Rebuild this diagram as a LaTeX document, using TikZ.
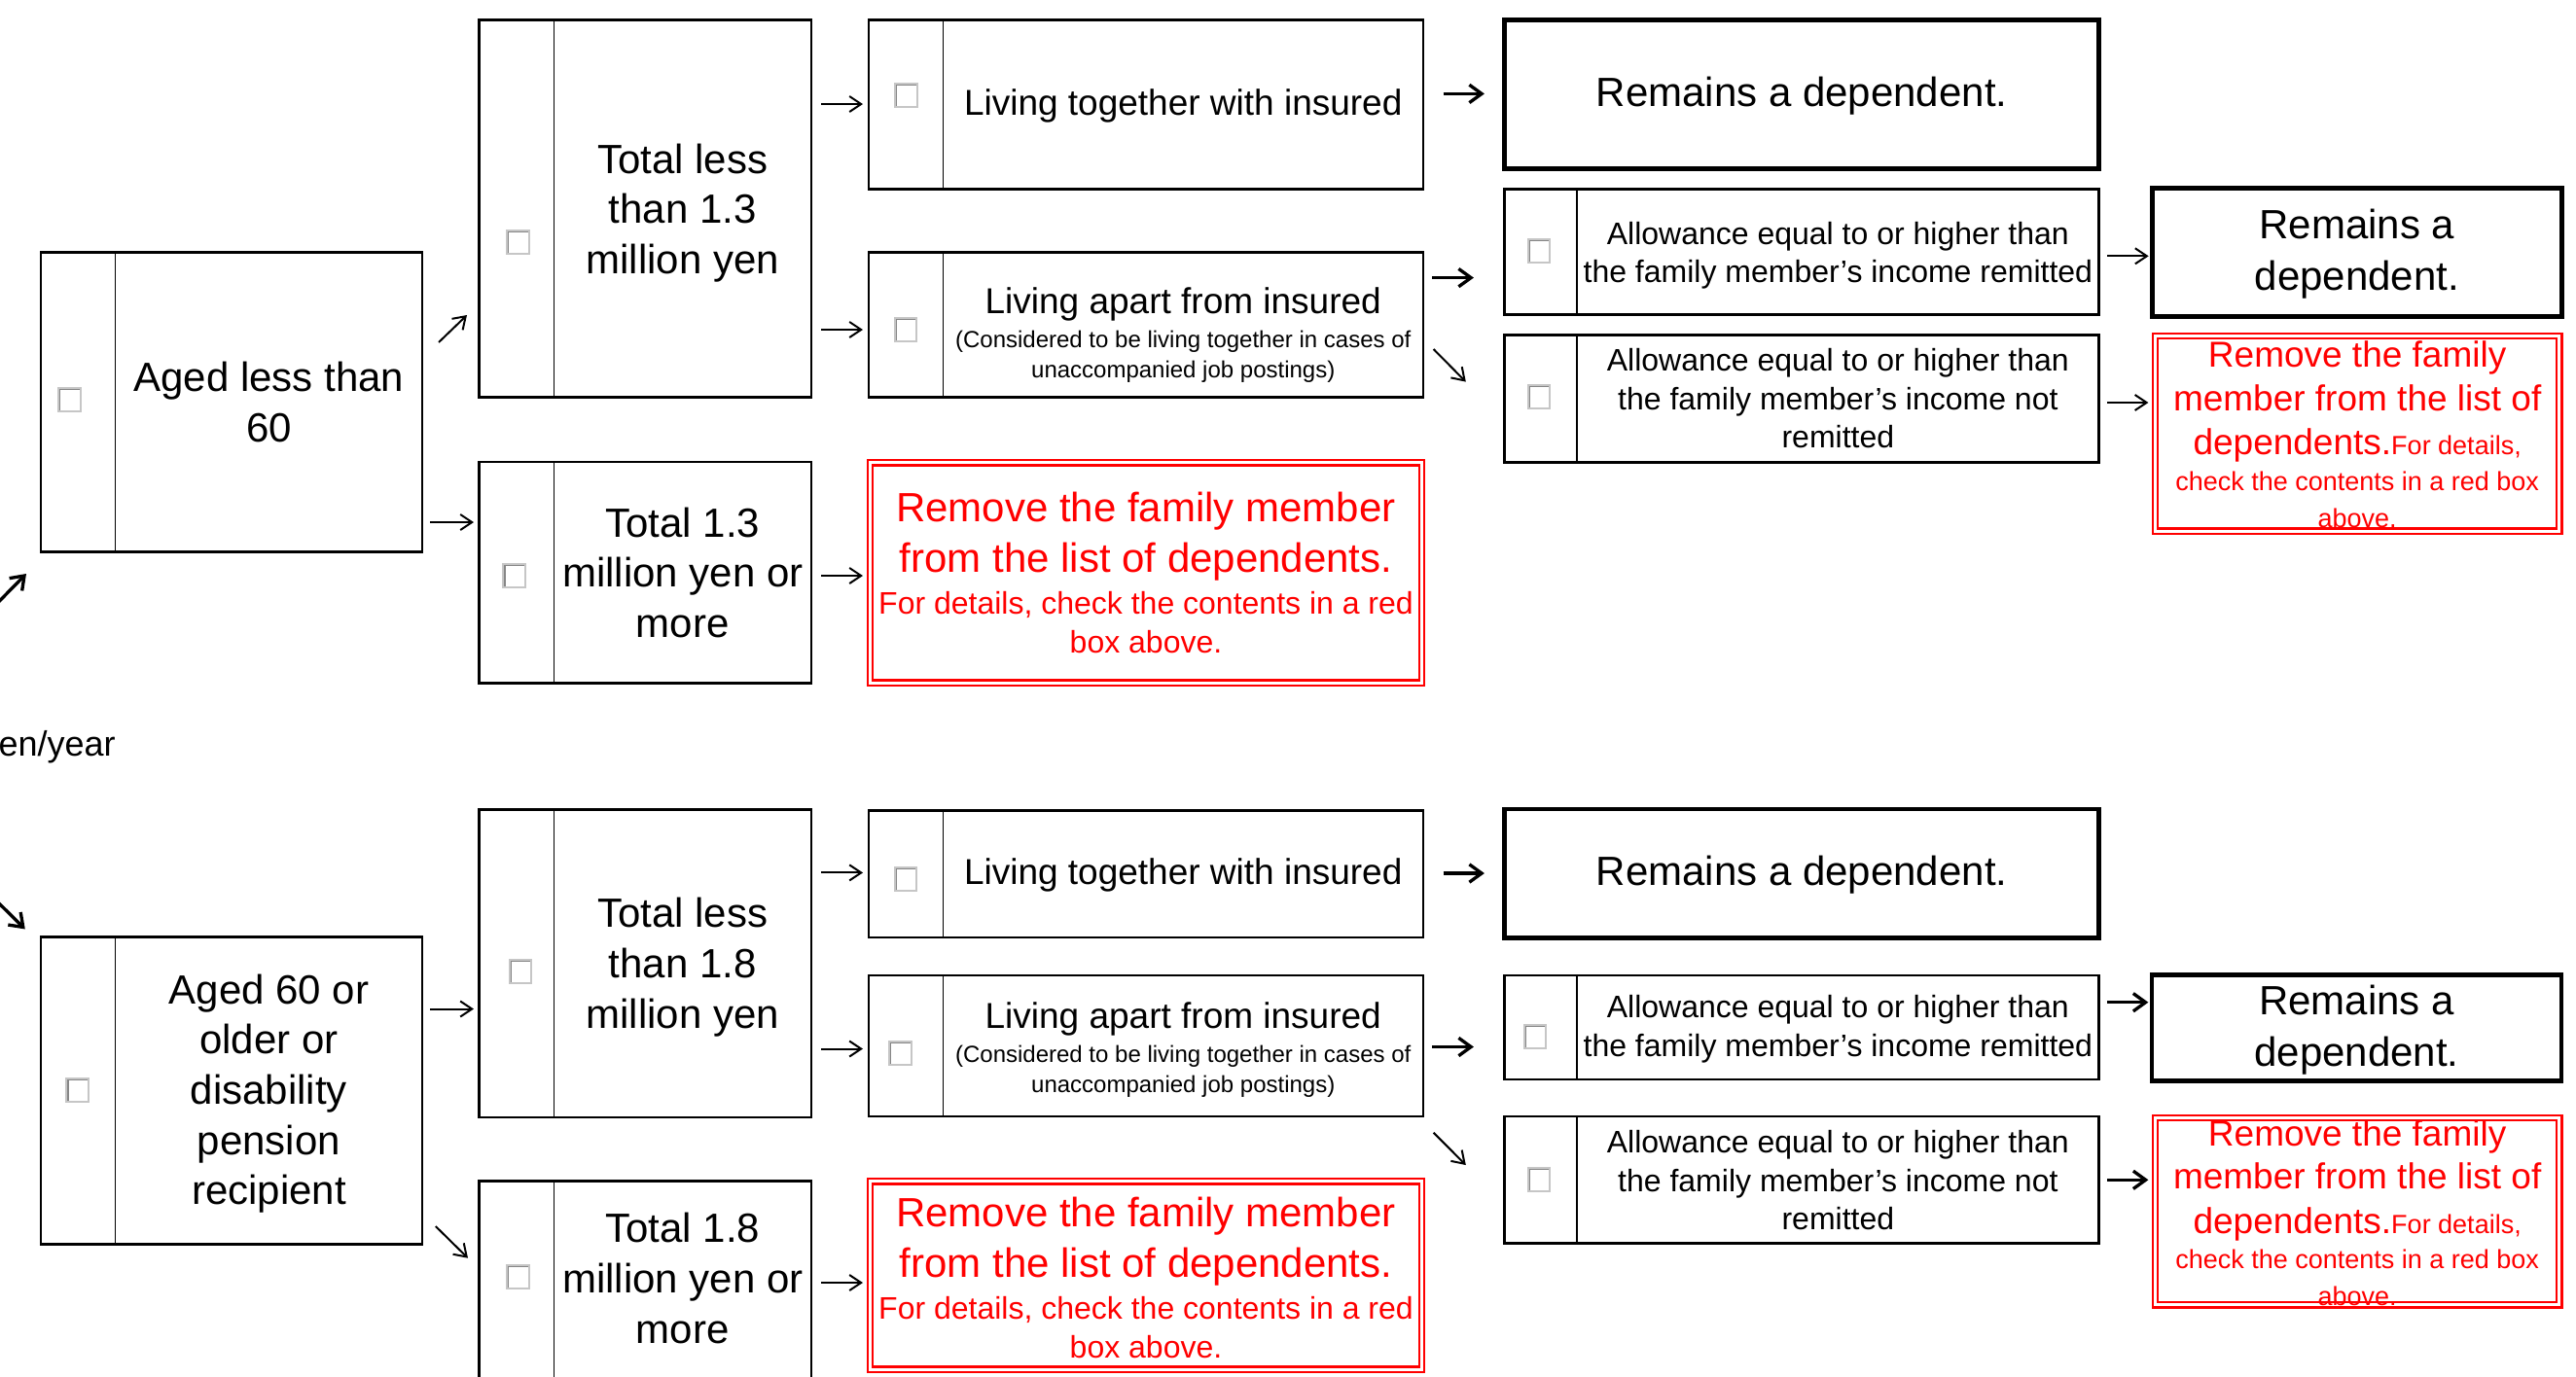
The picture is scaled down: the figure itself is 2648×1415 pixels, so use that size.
\documentclass[tikz,border=0pt]{standalone}
\usepackage{fontspec}
\setmainfont{Liberation Sans}
\usetikzlibrary{arrows.meta,fit,calc}
\newcommand\szL{\fontsize{12.6}{15.5}\selectfont}
\newcommand\szM{\fontsize{11.1}{13}\selectfont}
\newcommand\szA{\fontsize{9.6}{11.85}\selectfont}
\newcommand\szS{\fontsize{7.2}{9.3}\selectfont}
\newcommand\szR{\fontsize{8.1}{11}\selectfont}
\begin{document}
\begin{tikzpicture}[x=0.3pt,y=-0.3pt,
  bx/.style={draw, line width=0.8pt, inner sep=0pt, outer sep=0pt},
  bxt/.style={draw, line width=1.4pt, inner sep=0pt, outer sep=0pt},
  rbx/.style={draw=red, line width=0.7pt, double=white, double distance=0.9pt, inner sep=0pt, outer sep=0pt},
  dv/.style={line width=0.35pt},
  chk/.style={draw=gray!45, line width=0.6pt, fill=white, minimum width=6.8pt, minimum height=7.2pt, inner sep=0pt,
    path picture={\draw[gray!95, line width=1.3pt] (path picture bounding box.south west) -- (path picture bounding box.north west) -- (path picture bounding box.north east);}},
  txt/.style={align=center, inner sep=0pt},
  rtxt/.style={align=center, inner sep=0pt, text=red},
  arr/.style={line width=0.6pt, -{Straight Barb[length=3.6pt,width=4.8pt]}},
  barr/.style={line width=1pt, -{Straight Barb[length=3.8pt,width=5.5pt]}}
]
\useasboundingbox (0,0) rectangle (2648,1415);
\clip (0,0) rectangle (2648,1415);

% ================= TOP =================
\node[bx, fit={(42,259.4) (434,567.5)}] (aged1) {};
\draw[dv] (aged1.north -| 118.8,0) -- (aged1.south -| 118.8,0);
\node[chk] (aged1c) at (71.5,410.5) {};
\node[txt, font=\szL] (aged1t) at (276.4,413.5) {Aged less than\\60};

\node[bx, fit={(492.5,20.7) (834,408.6)}] (tl1) {};
\draw[dv] (tl1.north -| 569.5,0) -- (tl1.south -| 569.5,0);
\node[chk] (tl1c) at (532.4,248.5) {};
\node[txt, font=\szL] (tl1t) at (701.75,219) {Total less\\than 1.3\\million yen};

\node[bx, fit={(492.5,475) (834,702.5)}] (tm1) {};
\draw[dv] (tm1.north -| 569.5,0) -- (tm1.south -| 569.5,0);
\node[chk] (tm1c) at (528.7,591.5) {};
\node[txt, font=\szL] (tm1t) at (701.75,588.8) {Total 1.3\\million yen or\\more};

\node[bx, fit={(893,20.7) (1463,194.2)}] (lt1) {};
\draw[dv] (lt1.north -| 969.5,0) -- (lt1.south -| 969.5,0);
\node[chk] (lt1c) at (931.3,98) {};
\node[txt, font=\szM] (lt1t) at (1216.25,108.5) {Living together with insured};

\node[bx, fit={(893,259.4) (1463,408.6)}] (la1) {};
\draw[dv] (la1.north -| 969.5,0) -- (la1.south -| 969.5,0);
\node[chk] (la1c) at (931,339) {};
\node[txt, font=\fontsize{11.1}{10.5}\selectfont] (la1t) at (1216.25,344.5) {Living apart from insured\\{\szS (Considered to be living together in cases of}\\[-1.2pt]{\szS unaccompanied job postings)}};

\node[bxt, fit={(1546.6,20.7) (2157.7,173.5)}] (rd1) {};
\node[txt, font=\szL] (rd1t) at (1852.15,99) {Remains a dependent.};

\node[bx, fit={(1546.6,194.2) (2157.7,323.7)}] (ar1) {};
\draw[dv] (ar1.north -| 1621,0) -- (ar1.south -| 1621,0);
\node[chk] (ar1c) at (1582,258) {};
\node[txt, font=\szA] (ar1t) at (1889.35,262.5) {Allowance equal to or higher than\\the family member’s income remitted};

\node[bx, fit={(1546.6,344.4) (2157.7,475.2)}] (an1) {};
\draw[dv] (an1.north -| 1621,0) -- (an1.south -| 1621,0);
\node[chk] (an1c) at (1582,408) {};
\node[txt, font=\szA] (an1t) at (1889.35,410) {Allowance equal to or higher than\\the family member’s income not\\remitted};

\node[rbx, fit={(894.5,475.8) (1461.5,702.2)}] (rm1) {};
\node[rtxt, font=\fontsize{12.6}{15.6}\selectfont] (rm1t) at (1178,589) {Remove the family member\\from the list of dependents.\\[-2.9pt]{\szA For details, check the contents in a red}\\[-3.6pt]{\szA box above.}};

\node[bxt, fit={(2212.3,193.3) (2633.3,325.7)}] (rs1) {};
\node[txt, font=\fontsize{12.6}{15.9}\selectfont] (rs1t) at (2422.8,261.5) {Remains a\\dependent.};

\node[rbx, fit={(2215.4,345.5) (2630.9,546.2)}] (rr1) {};
\node[rtxt, font=\fontsize{11.1}{13.35}\selectfont] (rr1t) at (2423.15,446.5) {Remove the family\\member from the list of\\[0.35pt]dependents.{\szR For details,}\\[-2.35pt]{\szR check the contents in a red box}\\[-2.05pt]{\szR above.}};

% arrows top
\coordinate (o1) at (-8,625.6);
\draw[barr] (o1) -- ($(aged1.south west)+(-15,22.5)$);
\draw[arr] ($(aged1.east |- 0,352)+(17,0)$) -- ($(tl1.west |- 0,324)+(-12.5,0)$);
\draw[arr, shorten <=2.4pt, shorten >=1.65pt] (aged1.east |- 0,537) -- (tm1.west |- 0,537);
\draw[arr, shorten <=3pt, shorten >=1.8pt] (tl1.east |- 0,107) -- (lt1.west |- 0,107);
\draw[arr, shorten <=3pt, shorten >=1.8pt] (tl1.east |- 0,339) -- (la1.west |- 0,339);
\draw[arr, shorten <=3pt, shorten >=2.25pt] (tm1.east |- 0,592) -- (rm1.west |- 0,592);
\draw[barr, shorten <=6.15pt, shorten >=6.2pt] (lt1.east |- 0,96.4) -- (rd1.west |- 0,96.4);
\draw[barr, shorten <=2.7pt, shorten >=9.5pt] (la1.east |- 0,285.6) -- (ar1.west |- 0,285.6);
\draw[arr] ($(la1.east |- 0,359)+(10.6,0)$) -- ($(an1.west |- 0,392.6)+(-39.8,0)$);
\draw[arr, shorten <=2.5pt, shorten >=1.1pt] (ar1.east |- 0,263.3) -- (rs1.west |- 0,263.3);
\draw[arr, shorten <=2.5pt, shorten >=2.1pt] (an1.east |- 0,414) -- (rr1.west |- 0,414);

% middle label
\node[anchor=west, inner sep=0pt, font=\fontsize{10.8}{13}\selectfont] (yr) at (-2,768.4) {en/year};

% ================= BOTTOM =================
\node[bx, fit={(42,963.6) (434,1279.6)}] (aged2) {};
\draw[dv] (aged2.north -| 118.8,0) -- (aged2.south -| 118.8,0);
\node[chk] (aged2c) at (79.7,1121) {};
\node[txt, font=\szL] (aged2t) at (276.4,1124.5) {Aged 60 or\\older or\\disability\\pension\\recipient};

\node[bx, fit={(492.5,832.2) (834,1149)}] (tl2) {};
\draw[dv] (tl2.north -| 569.5,0) -- (tl2.south -| 569.5,0);
\node[chk] (tl2c) at (535,998.5) {};
\node[txt, font=\szL] (tl2t) at (701.75,994.5) {Total less\\than 1.8\\million yen};

\node[bx, fit={(492.5,1214.4) (834,1418)}] (tm2) {};
\draw[dv] (tm2.north -| 569.5,0) -- (tm2.south -| 569.5,0);
\node[chk] (tm2c) at (532.4,1312.5) {};
\node[txt, font=\szL] (tm2t) at (701.75,1314.5) {Total 1.8\\million yen or\\more};

\node[bx, fit={(893,833.3) (1463,964)}] (lt2) {};
\draw[dv] (lt2.north -| 969.5,0) -- (lt2.south -| 969.5,0);
\node[chk] (lt2c) at (931,903.5) {};
\node[txt, font=\szM] (lt2t) at (1216.25,899.5) {Living together with insured};

\node[bx, fit={(893,1003) (1463,1148)}] (la2) {};
\draw[dv] (la2.north -| 969.5,0) -- (la2.south -| 969.5,0);
\node[chk] (la2c) at (925.5,1083) {};
\node[txt, font=\fontsize{11.1}{10.5}\selectfont] (la2t) at (1216.25,1080) {Living apart from insured\\{\szS (Considered to be living together in cases of}\\[-1.2pt]{\szS unaccompanied job postings)}};

\node[bxt, fit={(1546.6,832) (2157.7,964.7)}] (rd2) {};
\node[txt, font=\szL] (rd2t) at (1852.15,900) {Remains a dependent.};

\node[bx, fit={(1546.6,1003) (2157.7,1110)}] (ar2) {};
\draw[dv] (ar2.north -| 1621,0) -- (ar2.south -| 1621,0);
\node[chk] (ar2c) at (1578,1066.3) {};
\node[txt, font=\szA] (ar2t) at (1889.35,1058) {Allowance equal to or higher than\\the family member’s income remitted};

\node[bx, fit={(1546.6,1148) (2157.7,1278.5)}] (an2) {};
\draw[dv] (an2.north -| 1621,0) -- (an2.south -| 1621,0);
\node[chk] (an2c) at (1582,1212.5) {};
\node[txt, font=\szA] (an2t) at (1889.35,1214) {Allowance equal to or higher than\\the family member’s income not\\remitted};

\node[rbx, fit={(894.5,1214.8) (1461.5,1408)}] (rm2) {};
\node[rtxt, font=\fontsize{12.6}{15.6}\selectfont] (rm2t) at (1178,1314) {Remove the family member\\from the list of dependents.\\[-2.9pt]{\szA For details, check the contents in a red}\\[-3.6pt]{\szA box above.}};

\node[bxt, fit={(2212,1002.3) (2633,1111.7)}] (rs2) {};
\node[txt, font=\fontsize{12.6}{15.9}\selectfont] (rs2t) at (2422.5,1059) {Remains a\\dependent.};

\node[rbx, fit={(2215.4,1149.5) (2630.9,1341.9)}] (rr2) {};
\node[rtxt, font=\fontsize{11.1}{13.35}\selectfont] (rr2t) at (2423.15,1247) {Remove the family\\member from the list of\\[0.35pt]dependents.{\szR For details,}\\[-2.35pt]{\szR check the contents in a red box}\\[-2.05pt]{\szR above.}};

% arrows bottom
\coordinate (o2) at (-8,922);
\draw[barr] (o2) -- ($(aged2.north west)+(-16.2,-8.2)$);
\draw[arr, shorten <=2.4pt, shorten >=1.65pt] (aged2.east |- 0,1037.5) -- (tl2.west |- 0,1037.5);
\draw[arr] ($(aged2.east |- 0,1261)+(13.8,0)$) -- ($(tm2.west |- 0,1293.7)+(-11.5,0)$);
\draw[arr, shorten <=3pt, shorten >=1.8pt] (tl2.east |- 0,897.4) -- (lt2.west |- 0,897.4);
\draw[arr, shorten <=3pt, shorten >=1.8pt] (tl2.east |- 0,1078.5) -- (la2.west |- 0,1078.5);
\draw[arr, shorten <=3pt, shorten >=2.25pt] (tm2.east |- 0,1319) -- (rm2.west |- 0,1319);
\draw[barr, shorten <=6.15pt, shorten >=6.2pt] (lt2.east |- 0,898) -- (rd2.west |- 0,898);
\draw[barr, shorten <=2.7pt, shorten >=9.5pt] (la2.east |- 0,1076.5) -- (ar2.west |- 0,1076.5);
\draw[arr] ($(la2.east |- 0,1164.7)+(10.6,0)$) -- ($(an2.west |- 0,1198)+(-39.8,0)$);
\draw[barr, shorten <=2.5pt, shorten >=1.1pt] (ar2.east |- 0,1030.7) -- (rs2.west |- 0,1030.7);
\draw[barr, shorten <=2.5pt, shorten >=2.1pt] (an2.east |- 0,1213.3) -- (rr2.west |- 0,1213.3);
\end{tikzpicture}
\end{document}
